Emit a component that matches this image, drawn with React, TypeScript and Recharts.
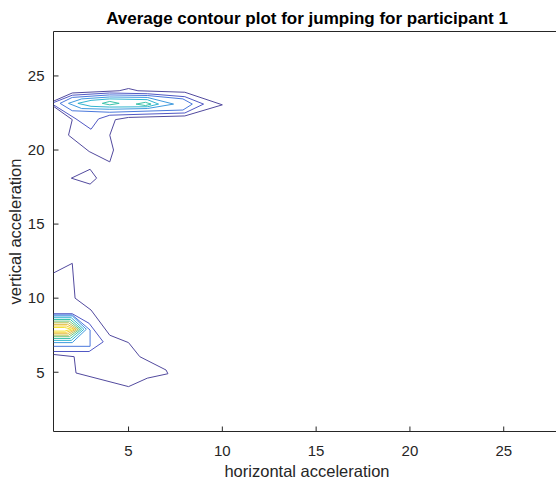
import React from 'react'
import { ScatterChart, Scatter, XAxis, YAxis } from 'recharts'

// axis ticks
const xTicks = [5, 10, 15, 20, 25]
const yTicks = [5, 10, 15, 20, 25]
const xDomain = [1, 28]
const yDomain = [1, 28]

// upper blob (around vertical acceleration 23)
const upperLevel1: [number, number][] = [
  [1, 23.3], [2, 23.85], [4.5, 24.0], [5, 24.15], [5.5, 24.0], [8, 23.9], [10, 23.05],
  [8, 22.3], [5, 22.2], [4.3, 22.05], [4, 21], [4.2, 20], [4, 19.2], [2.9, 19.9],
  [1.8, 21], [2, 22.05], [1, 22.95],
]
const upperLevel2: [number, number][] = [
  [1, 23.2], [2, 23.7], [4, 23.85], [6, 23.8], [8, 23.6], [9, 23.1], [8, 22.5],
  [4, 22.35], [3.4, 22.1], [3, 21.4], [2.2, 22.1], [1, 23.05],
]
const upperLevel3: [number, number][] = [
  [1.35, 23.15], [2, 23.55], [4, 23.72], [6, 23.68], [7.9, 23.45], [8.4, 23.1],
  [7.9, 22.7], [4, 22.55], [2, 22.65], [1.35, 23.15],
]
const upperLevel4: [number, number][] = [
  [1.8, 23.15], [2.5, 23.45], [4, 23.58], [6, 23.55], [7.4, 23.1], [6, 22.8],
  [4, 22.75], [2.5, 22.8], [1.8, 23.15],
]
const upperLevel5: [number, number][] = [
  [2.3, 23.15], [3, 23.35], [4, 23.45], [6, 23.4], [6.6, 23.1], [6, 22.92],
  [4, 22.9], [3, 22.95], [2.3, 23.15],
]
const upperLevel6a: [number, number][] = [
  [3.6, 23.15], [4, 23.28], [4.5, 23.15], [4, 23.05], [3.6, 23.15],
]
const upperLevel6b: [number, number][] = [
  [5.4, 23.1], [5.9, 23.22], [6.2, 23.1], [5.9, 23.0], [5.4, 23.1],
]
const smallIsland: [number, number][] = [
  [1.95, 18.1], [2.95, 18.7], [3.3, 18.1], [2.95, 17.7], [1.95, 18.1],
]

// lower blob (around vertical acceleration 8)
const lowerLevel1: [number, number][] = [
  [1, 11.7], [2, 12.35], [2.15, 10], [3, 9.2], [4, 7.5], [5, 7], [5.6, 6.05],
  [7, 5.15], [7.1, 4.9], [6, 4.6], [5, 4.03], [2.2, 4.95], [2.1, 6.05], [1, 6.2],
]
const lowerLevel2: [number, number][] = [
  [1, 8.95], [2, 8.95], [2.9, 8.3], [3.65, 7.05], [2.9, 6.4], [1, 6.4],
]
const lowerLevel3: [number, number][] = [
  [1, 8.87], [2, 8.87], [2.95, 7.85], [2.95, 6.75], [1, 6.75],
]
const lowerLevel4: [number, number][] = [[1, 8.8], [2, 8.8], [2.75, 7.9], [2, 7.0], [1, 7.0]]
const lowerLevel5: [number, number][] = [[1, 8.68], [1.95, 8.68], [2.62, 7.9], [1.95, 7.15], [1, 7.15]]
const lowerLevel6: [number, number][] = [[1, 8.56], [1.9, 8.56], [2.5, 7.9], [1.9, 7.28], [1, 7.28]]
const lowerLevel7: [number, number][] = [[1, 8.45], [1.85, 8.45], [2.4, 7.9], [1.85, 7.4], [1, 7.4]]
const lowerLevel8: [number, number][] = [[1, 8.34], [1.8, 8.34], [2.3, 7.9], [1.8, 7.5], [1, 7.5]]
const lowerLevel9: [number, number][] = [[1, 8.23], [1.75, 8.23], [2.2, 7.9], [1.75, 7.6], [1, 7.6]]
const lowerLevel10: [number, number][] = [[1, 8.12], [1.7, 8.12], [2.1, 7.9], [1.7, 7.7], [1, 7.7]]
const lowerLevel11: [number, number][] = [[1, 8.02], [1.6, 8.02], [1.95, 7.9], [1.6, 7.78], [1, 7.78]]

// parula-ish colours per contour level (a bit muted like the jpeg)
const LEVEL_COLORS = [
  '#524a9e', '#5158c4', '#4a78dc', '#3f9ade', '#33b6d0', '#3cc3aa',
  '#72c682', '#b6c25a', '#e4bd45', '#f3d03a', '#f2e23a',
]

const contours = [
  { pts: upperLevel1, level: 0 },
  { pts: upperLevel2, level: 1 },
  { pts: upperLevel3, level: 2 },
  { pts: upperLevel4, level: 3 },
  { pts: upperLevel5, level: 4 },
  { pts: upperLevel6a, level: 5 },
  { pts: upperLevel6b, level: 5 },
  { pts: smallIsland, level: 0 },
  { pts: lowerLevel1, level: 0 },
  { pts: lowerLevel2, level: 1 },
  { pts: lowerLevel3, level: 2 },
  { pts: lowerLevel4, level: 3 },
  { pts: lowerLevel5, level: 4 },
  { pts: lowerLevel6, level: 5 },
  { pts: lowerLevel7, level: 6 },
  { pts: lowerLevel8, level: 7 },
  { pts: lowerLevel9, level: 8 },
  { pts: lowerLevel10, level: 9 },
  { pts: lowerLevel11, level: 10 },
]

const AXIS = '#262626'
const FONT = '"Liberation Sans", Arial, Helvetica, sans-serif'
const noDot = () => <g />

export default function App() {
  return (
    <div style={{ position: 'absolute', left: 0, top: 0, width: 556, height: 484, overflow: 'hidden', background: '#fff' }}>
      <ScatterChart
        width={570}
        height={484}
        margin={{ top: 30.5, right: 9, bottom: 51.5, left: 52.5 }}
        style={{ fontFamily: FONT }}
      >
        <XAxis
          xAxisId="bottom"
          type="number"
          dataKey="x"
          domain={xDomain}
          ticks={xTicks}
          allowDataOverflow
          height={1}
          tickSize={-5}
          tickMargin={19}
          stroke={AXIS}
          tick={{ fill: AXIS, fontSize: 15 }}
        />
        <XAxis
          xAxisId="top"
          orientation="top"
          type="number"
          dataKey="x"
          domain={xDomain}
          ticks={xTicks}
          allowDataOverflow
          height={1}
          tickSize={-5}
          stroke={AXIS}
          tick={false}
        />
        <YAxis
          yAxisId="left"
          type="number"
          dataKey="y"
          domain={yDomain}
          ticks={yTicks}
          allowDataOverflow
          width={1}
          tickSize={-5}
          tickMargin={14}
          stroke={AXIS}
          tick={{ fill: AXIS, fontSize: 15 }}
        />
        <YAxis
          yAxisId="right"
          orientation="right"
          type="number"
          dataKey="y"
          domain={yDomain}
          ticks={yTicks}
          allowDataOverflow
          width={1}
          tickSize={-5}
          stroke={AXIS}
          tick={false}
        />
        <Scatter
          xAxisId="top"
          yAxisId="right"
          data={[{ x: 1, y: 1 }]}
          shape={noDot}
          isAnimationActive={false}
        />
        {contours.map((c, i) => (
          <Scatter
            key={i}
            xAxisId="bottom"
            yAxisId="left"
            data={c.pts.map(([x, y]) => ({ x, y }))}
            line={{ stroke: LEVEL_COLORS[c.level], strokeWidth: 1 }}
            lineType="joint"
            shape={noDot}
            isAnimationActive={false}
          />
        ))}
      </ScatterChart>
      <svg width={556} height={484} style={{ position: 'absolute', left: 0, top: 0, pointerEvents: 'none', fontFamily: FONT }}>
        <text x={307} y={24} textAnchor="middle" fontSize={17} fontWeight="bold" fill="#000">
          Average contour plot for jumping for participant 1
        </text>
        <text x={307} y={477} textAnchor="middle" fontSize={16.5} fill={AXIS}>
          horizontal acceleration
        </text>
        <text x={21} y={231.5} textAnchor="middle" fontSize={16.5} fill={AXIS} transform="rotate(-90 21 231.5)">
          vertical acceleration
        </text>
      </svg>
    </div>
  )
}
